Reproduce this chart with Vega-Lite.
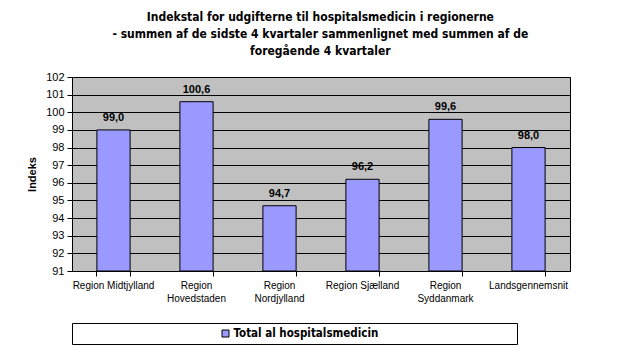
{
  "$schema": "https://vega.github.io/schema/vega-lite/v6.json",
  "background": "white",
  "padding": {"left": 26, "top": 10, "right": 5, "bottom": 5},
  "title": {
    "text": ["Indekstal for udgifterne til hospitalsmedicin i regionerne", "- summen af de sidste 4 kvartaler sammenlignet med summen af de", "foregående 4 kvartaler"],
    "font": "DejaVu Sans Condensed, sans-serif",
    "fontSize": 12,
    "fontWeight": "bold",
    "lineHeight": 17,
    "anchor": "middle",
    "offset": 13,
    "color": "black",
    "dx": 22
  },
  "bounds": "flush",
  "spacing": 52,
  "vconcat": [
    {
      "width": 498,
      "height": 194,
      "data": {"values": [
        {"region": "Region Midtjylland", "indeks": 99.0},
        {"region": "Region Hovedstaden", "indeks": 100.6},
        {"region": "Region Nordjylland", "indeks": 94.7},
        {"region": "Region Sjælland", "indeks": 96.2},
        {"region": "Region Syddanmark", "indeks": 99.6},
        {"region": "Landsgennemsnit", "indeks": 98.0}
      ]},
      "view": {"fill": "#C0C0C0", "stroke": "black"},
      "encoding": {
        "y": {
          "field": "indeks", "type": "quantitative",
          "scale": {"domain": [91, 102], "nice": false, "zero": false},
          "axis": {
            "title": "Indeks", "values": [91,92,93,94,95,96,97,98,99,100,101,102],
            "format": "d", "grid": true, "gridColor": "black", "gridOpacity": 1,
            "tickSize": 5, "tickColor": "black", "domainColor": "black",
            "labelFont": "Liberation Sans, Arial, sans-serif", "labelFontSize": 11, "labelColor": "black", "labelPadding": 3,
            "titleFont": "Liberation Sans, Arial, sans-serif", "titleFontSize": 11, "titleFontWeight": "bold", "titleColor": "black", "titlePadding": 8
          }
        }
      },
      "layer": [
        {
          "mark": {"type": "bar", "fill": "#9999FF", "stroke": "black", "strokeWidth": 1},
          "encoding": {
            "x": {
              "field": "region", "type": "nominal", "sort": null,
              "scale": {"paddingInner": 0.6, "paddingOuter": 0.3},
              "axis": {
                "orient": "bottom", "title": null, "ticks": false, "labelAngle": 0,
                "domainColor": "black",
                "labelFont": "Liberation Sans, Arial, sans-serif", "labelFontSize": 10, "labelColor": "black",
                "labelPadding": 9, "labelLineHeight": 13, "labelLimit": 200,
                "labelExpr": "datum.value == 'Region Midtjylland' || datum.value == 'Region Sjælland' || datum.value == 'Landsgennemsnit' ? datum.value : split(datum.value, ' ')"
              }
            },
            "y2": {"datum": 91}
          }
        },
        {
          "mark": {"type": "text", "baseline": "bottom", "dy": -7, "font": "Liberation Sans, Arial, sans-serif", "fontSize": 11, "fontWeight": "bold", "color": "black"},
          "encoding": {
            "x": {
              "field": "region", "type": "nominal", "sort": null,
              "axis": {
                "orient": "bottom", "title": null, "labels": false, "domain": false, "grid": false,
                "ticks": true, "tickSize": 5, "tickColor": "black", "bandPosition": 1, "tickExtra": true
              }
            },
            "text": {"field": "indeks", "type": "quantitative", "format": ".1f"}
          }
        }
      ],
      "resolve": {"axis": {"x": "independent"}}
    },
    {
      "width": 445,
      "height": 21,
      "data": {"values": [{"series": "Total al hospitalsmedicin"}]},
      "view": {"fill": "white", "stroke": "black"},
      "layer": [
        {
          "mark": {"type": "point", "shape": "square", "filled": true, "fill": "#9999FF", "stroke": "black", "strokeWidth": 1, "size": 49, "opacity": 1, "xOffset": -69},
          "encoding": {}
        },
        {
          "mark": {"type": "text", "align": "left", "baseline": "middle", "dx": -61, "font": "DejaVu Sans Condensed, sans-serif", "fontSize": 11.5, "fontWeight": "bold", "color": "black"},
          "encoding": {"text": {"field": "series", "type": "nominal"}}
        }
      ]
    }
  ],
  "config": {
    "locale": {"number": {"decimal": ",", "thousands": ".", "grouping": [3], "currency": ["", " kr."]}}
  }
}
